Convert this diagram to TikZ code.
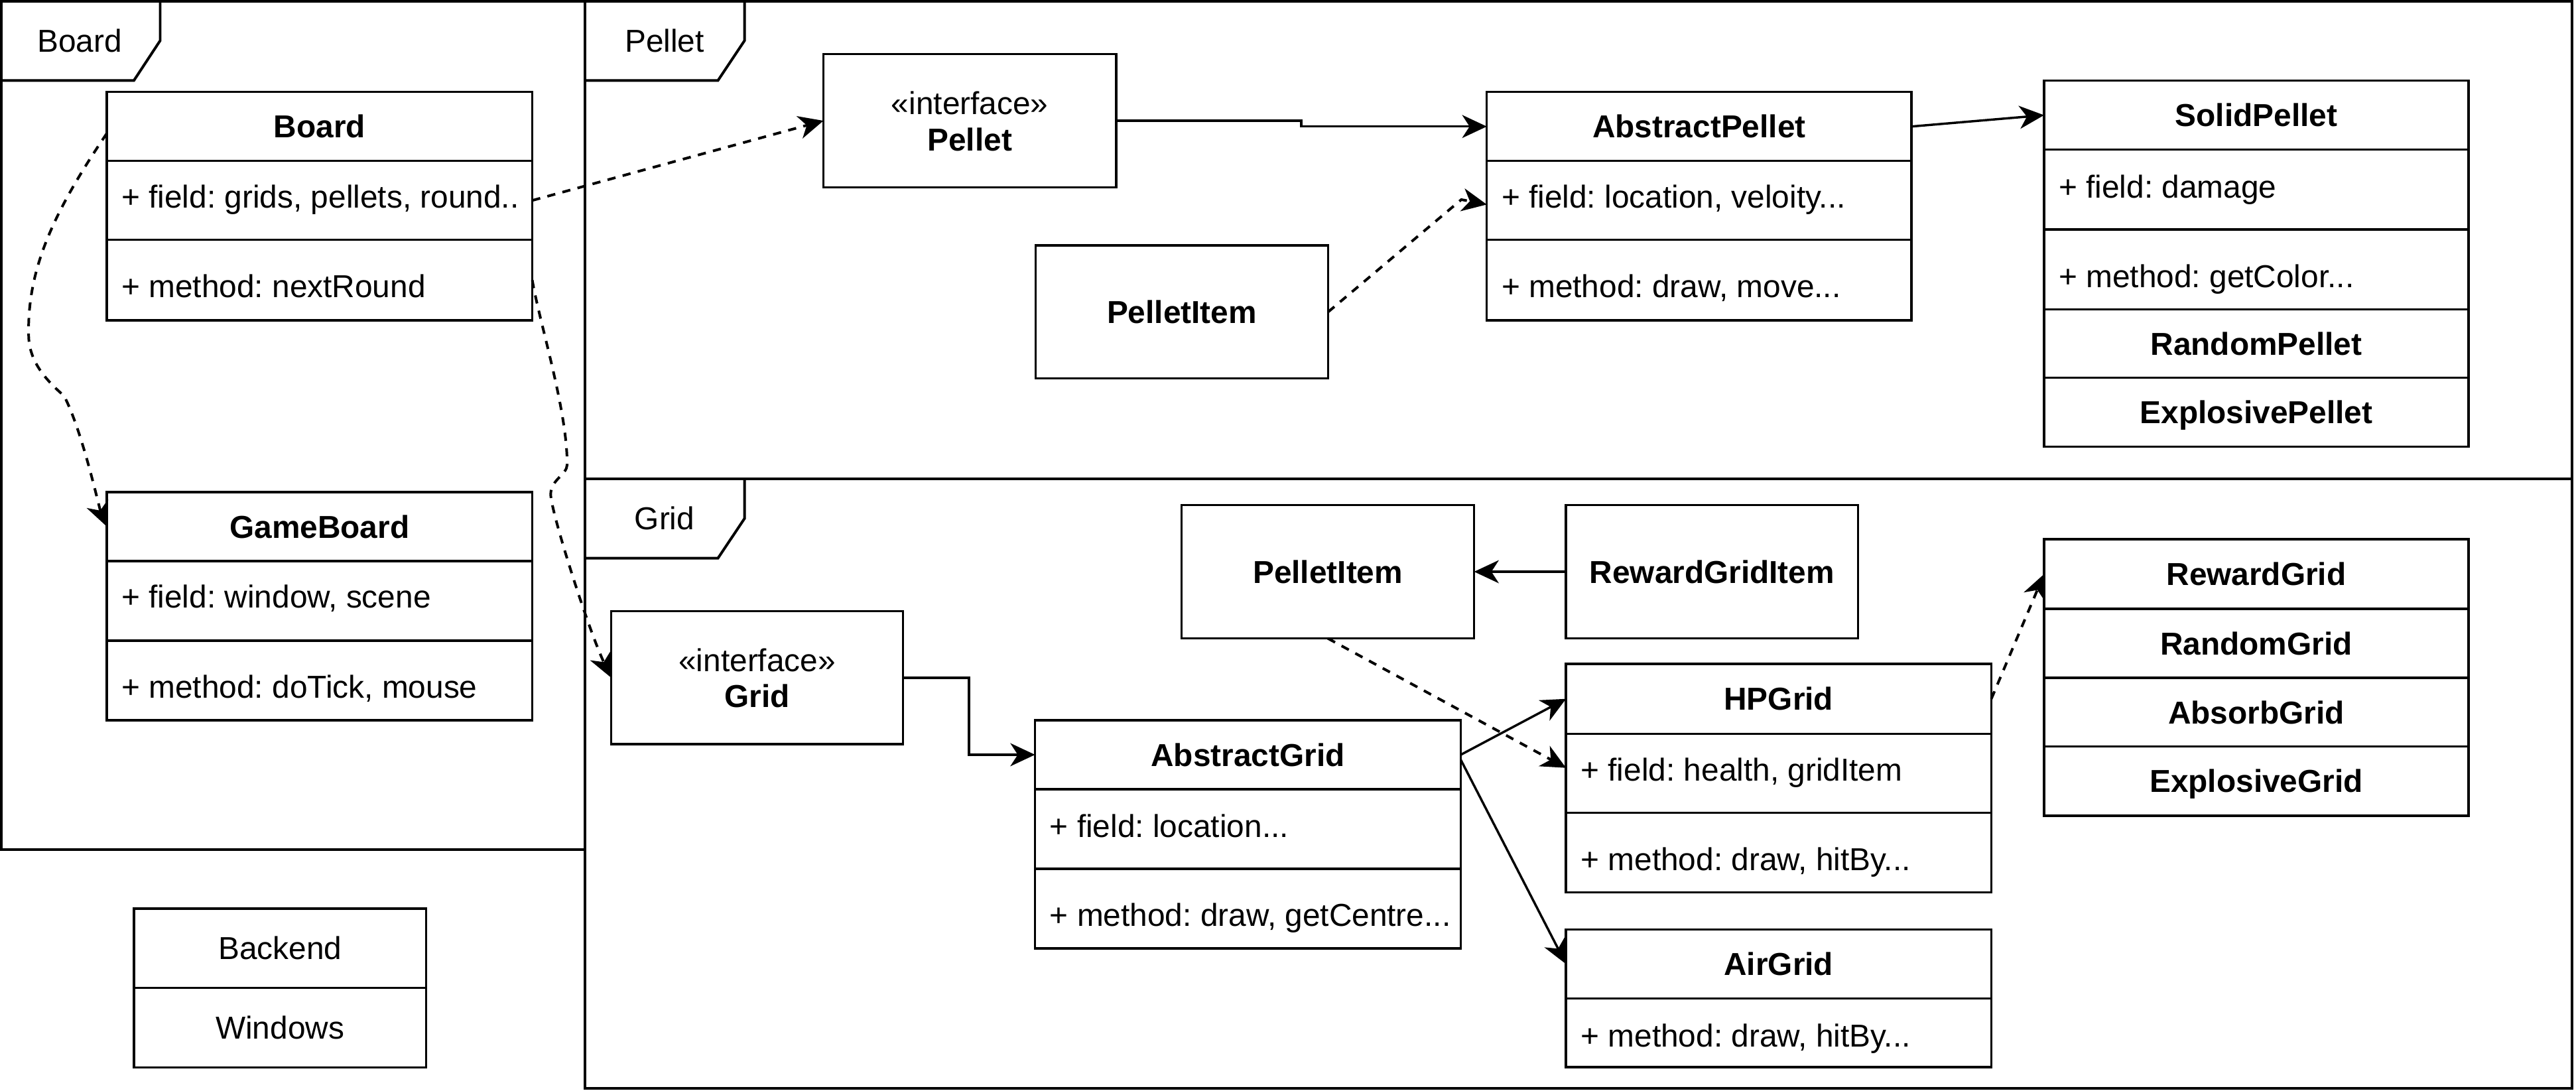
\documentclass[tikz,border=0pt]{standalone}
\usepackage{fontspec}
\setmainfont{Liberation Sans}
\usetikzlibrary{arrows.meta,calc}
\frenchspacing
\begin{document}
\begin{tikzpicture}[x=1pt,y=-1pt,
  txt/.style={font=\fontsize{19.3}{23}\selectfont, inner sep=0pt, outer sep=0pt, text height=17.8pt, text depth=3.9pt},
  ttl/.style={txt, font=\fontsize{19.3}{23}\selectfont\bfseries},
  mem/.style={txt, anchor=west},
  cell/.style={draw, line width=1.4pt, inner sep=0pt, outer sep=0pt, anchor=north west, txt},
  frm/.style={draw, line width=1.6pt},
  conn/.style={line width=1.4pt, -{Stealth[length=15pt,width=14pt,inset=4.5pt]}},
  dconn/.style={conn, line width=1.6pt, dash pattern=on 5pt off 4.5pt},
]
\fill[white] (0,0) rectangle (1568,663.7);
\useasboundingbox (0,0) rectangle (1568,663.7);

% frames
\draw[frm] (0.8,0.8) rectangle (356,517.2);
\draw[frm] (97.5,0.8) -- (97.5,24.7) -- (81.5,49) -- (0.8,49);
\node[txt] (tabBoard) at (48.5,24.7) {Board};

\draw[frm] (356,0.8) rectangle (1565.5,291.6);
\draw[frm] (453.2,0.8) -- (453.2,24.7) -- (437,49) -- (356,49);
\node[txt] (tabPellet) at (404.5,24.7) {Pellet};

\draw[frm] (356,291.6) rectangle (1565.5,662.5);
\draw[frm] (453.2,291.6) -- (453.2,315.6) -- (437,339.8) -- (356,339.8);
\node[txt] (tabGrid) at (404.5,315.6) {Grid};

% Board
\node[cell, ttl, minimum width=259pt, minimum height=42pt] (boardH) at (65,56) {Board};
\node[cell, minimum width=259pt, minimum height=48pt] (boardF) at (65,98) {};
\node[cell, minimum width=259pt, minimum height=49pt] (boardM) at (65,146) {};
\node[mem] (boardFt) at (74,119.5) {+ field: grids, pellets, round..};
\node[mem] (boardMt) at (74,174) {+ method: nextRound};

% GameBoard
\node[cell, ttl, minimum width=259pt, minimum height=42pt] (gbH) at (65,299.5) {GameBoard};
\node[cell, minimum width=259pt, minimum height=48.5pt] (gbF) at (65,341.5) {};
\node[cell, minimum width=259pt, minimum height=48.5pt] (gbM) at (65,390) {};
\node[mem] (gbFt) at (74,363) {+ field: window, scene};
\node[mem] (gbMt) at (74,418) {+ method: doTick, mouse};

% Backend / Windows
\node[cell, minimum width=177.7pt, minimum height=48.3pt] (backend) at (81.6,553) {Backend};
\node[cell, minimum width=177.7pt, minimum height=48.4pt] (windows) at (81.6,601.3) {Windows};

% Pellet interface
\node[cell, minimum width=178.2pt, minimum height=81pt] (pint) at (501.2,33) {};
\node[txt] (pintS) at (590.3,62.6) {«interface»};
\node[ttl] (pintN) at (590.3,85) {Pellet};

% PelletItem (top)
\node[cell, ttl, minimum width=178pt, minimum height=81pt] (pitem) at (630.4,149.4) {PelletItem};

% AbstractPellet
\node[cell, ttl, minimum width=258.5pt, minimum height=42pt] (apH) at (905,56) {AbstractPellet};
\node[cell, minimum width=258.5pt, minimum height=48pt] (apF) at (905,98) {};
\node[cell, minimum width=258.5pt, minimum height=49pt] (apM) at (905,146) {};
\node[mem] (apFt) at (914,119.8) {+ field: location, veloity...};
\node[mem] (apMt) at (914,174.2) {+ method: draw, move...};

% SolidPellet stack
\node[cell, ttl, minimum width=258.4pt, minimum height=42pt] (spH) at (1244.2,49.1) {SolidPellet};
\node[cell, minimum width=258.4pt, minimum height=48.6pt] (spF) at (1244.2,91.1) {};
\node[cell, minimum width=258.4pt, minimum height=48.6pt] (spM) at (1244.2,139.7) {};
\node[cell, ttl, minimum width=258.4pt, minimum height=41.7pt] (spR) at (1244.2,188.3) {RandomPellet};
\node[cell, ttl, minimum width=258.4pt, minimum height=41.8pt] (spE) at (1244.2,230) {ExplosivePellet};
\node[mem] (spFt) at (1253.2,113.5) {+ field: damage};
\node[mem] (spMt) at (1253.2,168) {+ method: getColor...};

% Grid interface
\node[cell, minimum width=177.7pt, minimum height=81pt] (gint) at (372,372) {};
\node[txt] (gintS) at (460.9,401.7) {«interface»};
\node[ttl] (gintN) at (460.9,423.6) {Grid};

% AbstractGrid
\node[cell, ttl, minimum width=259.2pt, minimum height=42pt] (agH) at (630,438.4) {AbstractGrid};
\node[cell, minimum width=259.2pt, minimum height=48.4pt] (agF) at (630,480.4) {};
\node[cell, minimum width=259.2pt, minimum height=48.4pt] (agM) at (630,528.8) {};
\node[mem] (agFt) at (639,502.6) {+ field: location...};
\node[mem] (agMt) at (639,557) {+ method: draw, getCentre...};

% PelletItem (grid) and RewardGridItem
\node[cell, ttl, minimum width=178.1pt, minimum height=81.2pt] (pgi) at (719.2,307.4) {PelletItem};
\node[cell, ttl, minimum width=177.8pt, minimum height=81.2pt] (rgi) at (953.2,307.4) {RewardGridItem};

% HPGrid
\node[cell, ttl, minimum width=258.9pt, minimum height=42.6pt] (hpH) at (953.2,404.1) {HPGrid};
\node[cell, minimum width=258.9pt, minimum height=48.1pt] (hpF) at (953.2,446.7) {};
\node[cell, minimum width=258.9pt, minimum height=48.4pt] (hpM) at (953.2,494.8) {};
\node[mem] (hpFt) at (962.2,468.5) {+ field: health, gridItem};
\node[mem] (hpMt) at (962.2,523) {+ method: draw, hitBy...};

% AirGrid
\node[cell, ttl, minimum width=258.9pt, minimum height=42pt] (aiH) at (953.2,565.8) {AirGrid};
\node[cell, minimum width=258.9pt, minimum height=41.8pt] (aiM) at (953.2,607.8) {};
\node[mem] (aiMt) at (962.2,630.2) {+ method: draw, hitBy...};

% RewardGrid stack
\node[cell, ttl, minimum width=258.4pt, minimum height=42.3pt] (rg1) at (1244.2,328.3) {RewardGrid};
\node[cell, ttl, minimum width=258.4pt, minimum height=42pt] (rg2) at (1244.2,370.6) {RandomGrid};
\node[cell, ttl, minimum width=258.4pt, minimum height=41.8pt] (rg3) at (1244.2,412.6) {AbsorbGrid};
\node[cell, ttl, minimum width=258.4pt, minimum height=42.1pt] (rg4) at (1244.2,454.4) {ExplosiveGrid};

% connectors
\draw[dconn] (boardF.east) -- (pint.west);
\draw[dconn] ($(boardH.west)!0.2!(boardH.south west)$) .. controls (32,130) and (16,165) .. (17.5,206)
  .. controls (18.5,222) and (30,233) .. (39,241) .. controls (50,262) and (60.3,309) .. (gbH.west);
\draw[dconn] (boardM.east) .. controls (328,195) and (345.5,250) .. (345.2,283)
  .. controls (345,289) and (335.2,292) .. (335.2,301) .. controls (335.5,312) and (358,383) .. (gint.west);
\draw[conn] (pint.east) -- ++(112.6,0) |- (apH.west);
\draw[conn] (apH.east) -- (spH.west);
\draw[dconn] (pitem.east) -- (889.5,121.5) -- ($(apF.west)+(0,2.5)$);
\draw[conn] (gint.east) -- ++(40.1,0) |- (agH.west);
\draw[conn] (rgi.west) -- (pgi.east);
\draw[dconn] (pgi.south) -- ($(hpF.north west)!0.43!(hpF.south west)$);
\draw[conn] (agH.east) -- (hpH.west);
\draw[conn] ($(agH.east)!0.15!(agH.south east)$) -- (aiH.west);
\draw[dconn] (hpH.east) -- (rg1.west);
\end{tikzpicture}
\end{document}
